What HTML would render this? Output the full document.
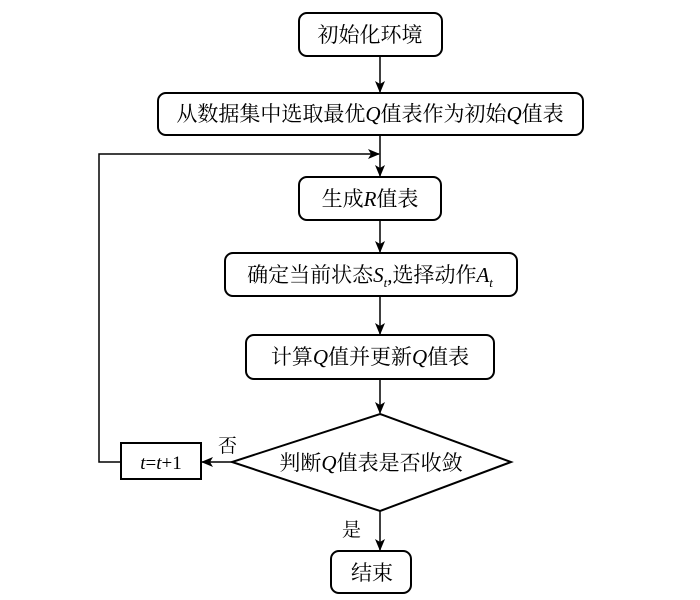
<!DOCTYPE html>
<html><head><meta charset="utf-8"><style>
body{margin:0;background:#fff}
svg text{font-family:"Liberation Serif","Noto Serif CJK SC",serif;font-size:21px;fill:#000}
.i{font-style:italic}
</style></head><body>
<svg width="700" height="595" viewBox="0 0 700 595" xmlns="http://www.w3.org/2000/svg">
<defs><marker id="a" markerWidth="12" markerHeight="10" refX="11" refY="5" orient="auto" markerUnits="userSpaceOnUse"><path d="M0,0 L12,5 L0,10 L3,5 z" fill="#000"/></marker></defs>
<g fill="none" stroke="#000" stroke-width="2">
<rect x="299" y="13" width="143" height="43" rx="8"/>
<rect x="158" y="93" width="425" height="42" rx="8"/>
<rect x="299" y="177" width="142" height="43" rx="8"/>
<rect x="225" y="253" width="292" height="43" rx="8"/>
<rect x="246" y="335" width="248" height="44" rx="8"/>
<polygon points="380,414 511,462 380,511 232,462"/>
<rect x="121" y="443" width="80" height="36"/>
<rect x="331" y="551" width="80" height="42" rx="8"/>
</g>
<g stroke="#000" stroke-width="1.5" fill="none">
<line x1="380" y1="56" x2="380" y2="92" marker-end="url(#a)"/>
<line x1="380" y1="135" x2="380" y2="176" marker-end="url(#a)"/>
<line x1="380" y1="220" x2="380" y2="252" marker-end="url(#a)"/>
<line x1="380" y1="296" x2="380" y2="334" marker-end="url(#a)"/>
<line x1="380" y1="379" x2="380" y2="413" marker-end="url(#a)"/>
<line x1="380" y1="511" x2="380" y2="550" marker-end="url(#a)"/>
<line x1="232" y1="462" x2="202" y2="462" marker-end="url(#a)"/>
<polyline points="121,462 99,462 99,154 379,154" marker-end="url(#a)"/>
</g>
<text x="370" y="42" text-anchor="middle">初始化环境</text>
<text x="370" y="121" text-anchor="middle">从数据集中选取最优<tspan class="i">Q</tspan>值表作为初始<tspan class="i">Q</tspan>值表</text>
<text x="370" y="206" text-anchor="middle">生成<tspan class="i">R</tspan>值表</text>
<text x="370" y="282" text-anchor="middle">确定当前状态<tspan class="i">S</tspan><tspan class="i" font-size="13" dy="5">t</tspan><tspan dy="-5">,</tspan>选择动作<tspan class="i">A</tspan><tspan class="i" font-size="13" dy="5">t</tspan></text>
<text x="370" y="364" text-anchor="middle">计算<tspan class="i">Q</tspan>值并更新<tspan class="i">Q</tspan>值表</text>
<text x="371" y="470" text-anchor="middle">判断<tspan class="i">Q</tspan>值表是否收敛</text>
<text x="161" y="469" text-anchor="middle" style="font-size:19px"><tspan class="i">t</tspan>=<tspan class="i">t</tspan>+1</text>
<text x="372" y="580" text-anchor="middle">结束</text>
<text x="218" y="452" style="font-size:19px">否</text>
<text x="342" y="536" style="font-size:19px">是</text>
</svg>
</body></html>
